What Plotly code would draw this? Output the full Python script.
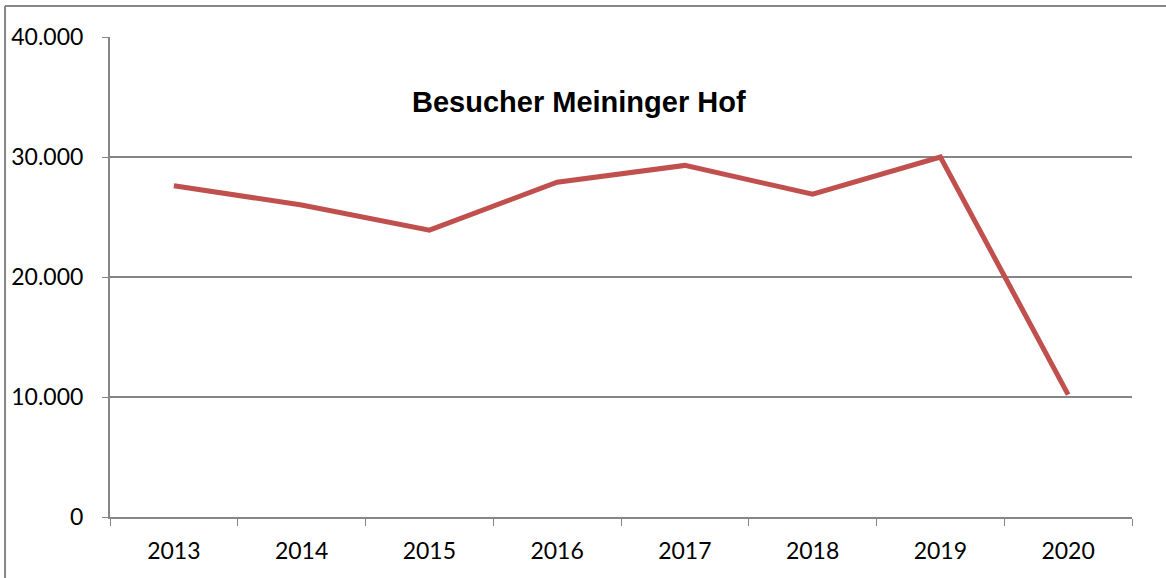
import plotly.graph_objects as go

years = ["2013", "2014", "2015", "2016", "2017", "2018", "2019", "2020"]
visitors = [27600, 26000, 23900, 27900, 29300, 26900, 30000, 10200]
y_ticks = [0, 10000, 20000, 30000, 40000]

GRAY = "#868686"

fig = go.Figure()
fig.add_trace(go.Scatter(
    x=years,
    y=visitors,
    mode="lines",
    line=dict(color="#C0504D", width=5),
    showlegend=False,
))

# frame: only the left and top edges are visible in the source image
frame = [
    dict(type="line", xref="paper", yref="paper",
         x0=-0.1027, x1=1.1, y0=1.0645, y1=1.0645,
         line=dict(color=GRAY, width=2), layer="below"),
    dict(type="line", xref="paper", yref="paper",
         x0=-0.1027, x1=-0.1027, y0=-0.2, y1=1.0645,
         line=dict(color=GRAY, width=2), layer="below"),
]

fig.update_layout(
    width=1166,
    height=578,
    margin=dict(l=110, r=34, t=37, b=61),
    paper_bgcolor="white",
    plot_bgcolor="white",
    separators=",.",
    font=dict(family="Lato, Carlito, Calibri, sans-serif", size=23, color="black"),
    annotations=[dict(
        text="<b>Besucher Meininger Hof</b>",
        x=0.459, y=0.865, xref="paper", yref="paper",
        xanchor="center", yanchor="middle", showarrow=False,
        font=dict(family="Liberation Sans, Arial, sans-serif", size=29, color="black"),
    )],
    shapes=frame,
)

fig.update_xaxes(
    type="category",
    tickson="boundaries",
    ticks="outside",
    ticklen=7,
    tickcolor=GRAY,
    showline=True,
    linecolor=GRAY,
    linewidth=2,
    showgrid=False,
    range=[-0.5, 7.5],
    ticklabelstandoff=12,
)
fig.update_yaxes(
    range=[0, 40000],
    tickvals=y_ticks,
    tickformat=",d",
    ticks="outside",
    ticklen=6,
    tickcolor=GRAY,
    showline=True,
    linecolor=GRAY,
    linewidth=2,
    showgrid=True,
    gridcolor=GRAY,
    gridwidth=1.5,
    zeroline=False,
    ticklabelstandoff=14,
)

fig.write_html(
    "out.html",
    config={"displayModeBar": False},
    post_script="document.body.style.margin='0';",
)
